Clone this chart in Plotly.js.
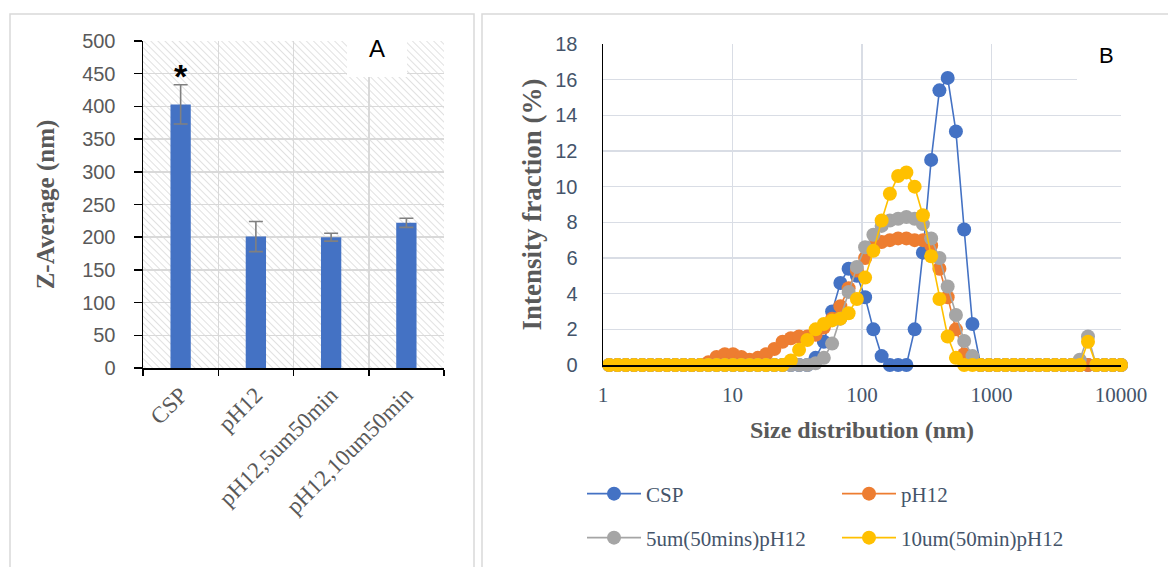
<!DOCTYPE html>
<html>
<head>
<meta charset="utf-8">
<script src="https://cdn.plot.ly/plotly-3.0.1.min.js"></script>
<style>html,body{margin:0;padding:0;background:#fff;overflow:hidden;width:1168px;height:567px;}#chart{width:1168px;height:567px;overflow:hidden;}</style>
</head>
<body>
<div id="chart"></div>
<script>
// ---- Panel A data ----
const barCategories = ['CSP', 'pH12', 'pH12,5um50min', 'pH12,10um50min'];
const zAverage = [403, 201, 200, 222];
const zAverageErr = [30, 23, 6, 7];

// ---- Panel B data ----
const sizeNm = [1.117, 1.294, 1.499, 1.736, 2.01, 2.328, 2.696, 3.122, 3.615, 4.187, 4.849, 5.615,
  6.503, 7.531, 8.721, 10.1, 11.7, 13.54, 15.69, 18.17, 21.04, 24.36, 28.21, 32.67, 37.84, 43.82,
  50.75, 58.77, 68.06, 78.82, 91.28, 105.7, 122.4, 141.8, 164.2, 190.1, 220.2, 255.0, 295.3, 342.0,
  396.1, 458.7, 531.2, 615.1, 712.4, 825.0, 955.4, 1106, 1281, 1484, 1718, 1990, 2305, 2669, 3091,
  3580, 4145, 4801, 5560, 6439, 7456, 8635, 10000];
const csp = [0,0,0,0,0,0,0,0,0,0,0,0,
  0,0,0,0,0,0,0,0,0,0,0,0,0,0.4,
  1.3,3.0,4.6,5.4,5.0,3.8,2.0,0.5,0,0,0,2.0,6.3,11.5,
  15.4,16.1,13.1,7.6,2.3,0,0,0,0,0,0,0,0,0,0,
  0,0,0,0,0,0,0,0];
const ph12 = [0,0,0,0,0,0,0,0,0,0,0,0,
  0.15,0.45,0.6,0.6,0.45,0.3,0.4,0.6,0.9,1.3,1.5,1.6,1.6,1.7,
  2.1,2.6,3.3,4.3,5.3,6.0,6.6,6.9,7.0,7.1,7.1,7.0,7.0,6.7,
  5.4,3.8,2.0,0.6,0.05,0,0,0,0,0,0,0,0,0,0,
  0,0,0,0,0,0,0,0];
const um5 = [0,0,0,0,0,0,0,0,0,0,0,0,
  0,0,0,0,0,0,0,0,0,0,0,0,0,0.1,
  0.4,1.2,2.6,4.1,5.5,6.6,7.3,7.8,8.1,8.2,8.3,8.2,7.9,7.1,
  6.0,4.4,2.8,1.35,0.5,0,0,0,0,0,0,0,0,0,0,
  0,0,0.3,1.6,0,0,0,0];
const um10 = [0,0,0,0,0,0,0,0,0,0,0,0,
  0,0,0,0,0,0,0,0,0,0,0.25,0.85,1.4,2.0,
  2.3,2.5,2.6,2.9,3.7,4.9,6.4,8.1,9.6,10.6,10.8,10.0,8.4,6.1,
  3.7,1.6,0.4,0,0,0,0,0,0,0,0,0,0,0,0,
  0,0,0,1.3,0,0,0,0];
const seriesNames = ['CSP', 'pH12', '5um(50mins)pH12', '10um(50min)pH12'];
const seriesColors = ['#4472C4', '#ED7D31', '#A5A5A5', '#FFC000'];
const sizeTicks = [1, 10, 100, 1000, 10000];
const sizeTickText = ['1', '10', '100', '1000', '10000'];

const W = 1168, H = 567;
const fx = p => p / W;
const fy = p => 1 - p / H;

const serif = 'Liberation Serif, Times New Roman, serif';
const sans = 'Liberation Sans, Arial, sans-serif';

const traces = [];
traces.push({
  type: 'bar', x: barCategories, y: zAverage, xaxis: 'x', yaxis: 'y',
  width: 0.27, marker: {color: '#4472C4'},
  error_y: {type: 'data', array: zAverageErr, visible: true, color: '#808080', thickness: 1.6, width: 7},
  showlegend: false, hoverinfo: 'x+y'
});
const allSeries = [csp, ph12, um5, um10];
allSeries.forEach((ys, i) => {
  traces.push({
    type: 'scatter', mode: 'lines+markers', x: sizeNm, y: ys, xaxis: 'x2', yaxis: 'y2',
    name: seriesNames[i], cliponaxis: false,
    line: {color: seriesColors[i], width: 1.6},
    marker: {color: seriesColors[i], size: 14},
    legend: i < 2 ? 'legend' : 'legend2'
  });
});

const hatchSvg = "<svg xmlns='http://www.w3.org/2000/svg' width='301' height='327'>" +
  "<defs><pattern id='h' width='5' height='5' patternUnits='userSpaceOnUse' patternTransform='rotate(-45)'>" +
  "<line x1='0' y1='0' x2='0' y2='5' stroke='#cccccc' stroke-width='1.2'/></pattern></defs>" +
  "<rect width='301' height='327' fill='url(#h)'/></svg>";

const legendCommon = {
  orientation: 'h', xanchor: 'left', yanchor: 'middle',
  entrywidth: 186, entrywidthmode: 'pixels', itemwidth: 54,
  font: {family: serif, size: 21, color: '#44546A'},
  bgcolor: 'rgba(0,0,0,0)'
};

const layout = {
  width: W, height: H,
  margin: {l: 0, r: 0, t: 0, b: 0, autoexpand: false},
  paper_bgcolor: '#ffffff', plot_bgcolor: 'rgba(0,0,0,0)',
  showlegend: true,
  xaxis: {
    domain: [fx(143), fx(444)], anchor: 'y', type: 'category',
    tickson: 'boundaries', ticks: 'outside', ticklen: 6, tickwidth: 1.5, tickcolor: '#000',
    showline: true, linecolor: '#000', linewidth: 1.5,
    showgrid: true, gridcolor: '#d9d9d9', gridwidth: 1.5,
    tickangle: -45, ticklabelstandoff: 3,
    tickfont: {family: serif, size: 23, color: '#595959'},
    automargin: false, fixedrange: true
  },
  yaxis: {
    domain: [fy(368), fy(41)], anchor: 'x', range: [0, 500], dtick: 50,
    ticks: 'outside', ticklen: 8, tickwidth: 1.5, tickcolor: '#000',
    showline: true, linecolor: '#000', linewidth: 1.5,
    showgrid: true, gridcolor: '#d9d9d9', gridwidth: 1.5, zeroline: false,
    ticklabelstandoff: 14,
    tickfont: {family: sans, size: 20, color: '#595959'},
    title: {text: '<b>Z-Average (nm)</b>', standoff: 20, font: {family: serif, size: 25, color: '#595959'}},
    automargin: false, fixedrange: true
  },
  xaxis2: {
    domain: [fx(603), fx(1121)], anchor: 'y2', type: 'log', range: [0, 4],
    tickvals: sizeTicks, ticktext: sizeTickText, ticks: '',
    showline: true, linecolor: '#000', linewidth: 1.5,
    showgrid: true, gridcolor: '#d9dde5', gridwidth: 1.6, zeroline: false,
    ticklabelstandoff: 10,
    tickfont: {family: serif, size: 21, color: '#44546A'},
    title: {text: '<b>Size distribution (nm)</b>', standoff: 15, font: {family: serif, size: 24, color: '#595959'}},
    automargin: false, fixedrange: true
  },
  yaxis2: {
    domain: [fy(365), fy(44)], anchor: 'x2', range: [0, 18], dtick: 2,
    ticks: '', showline: true, linecolor: '#000', linewidth: 1.5,
    showgrid: true, gridcolor: '#d9dde5', gridwidth: 1.6, zeroline: false,
    ticklabelstandoff: 20,
    tickfont: {family: sans, size: 20, color: '#44546A'},
    title: {text: '<b>Intensity fraction (%)</b>', standoff: 6, font: {family: serif, size: 27, color: '#595959'}},
    automargin: false, fixedrange: true
  },
  legend: Object.assign({x: fx(582), y: fy(494)}, legendCommon),
  legend2: Object.assign({x: fx(582), y: fy(538)}, legendCommon),
  images: [{
    source: 'data:image/svg+xml;charset=utf-8,' + encodeURIComponent(hatchSvg),
    xref: 'paper', yref: 'paper', x: fx(143), y: fy(41),
    sizex: fx(444) - fx(143), sizey: (368 - 41) / H,
    xanchor: 'left', yanchor: 'top', sizing: 'stretch', layer: 'below'
  }],
  shapes: [
    {type: 'path', xref: 'paper', yref: 'paper',
      path: 'M' + fx(10) + ',0 L' + fx(10) + ',' + fy(14) + ' L' + fx(474) + ',' + fy(14) + ' L' + fx(474) + ',0',
      line: {color: '#d9d9d9', width: 1.5}, layer: 'below'},
    {type: 'path', xref: 'paper', yref: 'paper',
      path: 'M' + fx(482) + ',0 L' + fx(482) + ',' + fy(14) + ' L1,' + fy(14),
      line: {color: '#d9d9d9', width: 1.5}, layer: 'below'},
    {type: 'rect', xref: 'paper', yref: 'paper', x0: fx(347), x1: fx(407), y0: fy(77), y1: fy(36),
      line: {width: 0}, fillcolor: '#ffffff', layer: 'above'},
    {type: 'rect', xref: 'paper', yref: 'paper', x0: fx(1077), x1: fx(1140), y0: fy(88), y1: fy(36),
      line: {width: 0}, fillcolor: '#ffffff', layer: 'above'}
  ],
  annotations: [
    {text: 'A', xref: 'paper', yref: 'paper', x: fx(377), y: fy(48), showarrow: false,
      xanchor: 'center', yanchor: 'middle', font: {family: sans, size: 24, color: '#000'}},
    {text: 'B', xref: 'paper', yref: 'paper', x: fx(1106), y: fy(55), showarrow: false,
      xanchor: 'center', yanchor: 'middle', font: {family: sans, size: 22, color: '#000'}},
    {text: '<b>*</b>', xref: 'x', yref: 'y', x: 'CSP', y: 447, showarrow: false,
      xanchor: 'center', yanchor: 'middle', font: {family: sans, size: 34, color: '#000'}}
  ]
};

Plotly.newPlot('chart', traces, layout, {displayModeBar: false, staticPlot: true});
</script>
</body>
</html>
